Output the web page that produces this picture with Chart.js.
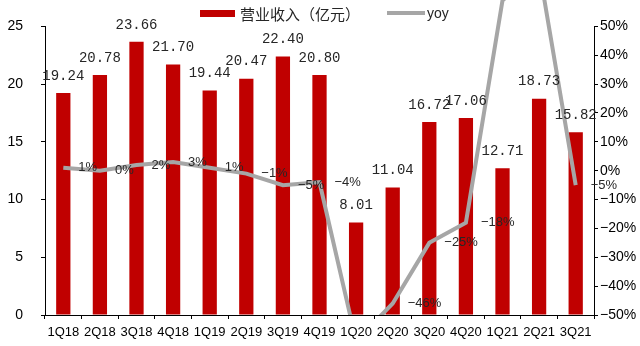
<!DOCTYPE html>
<html>
<head>
<meta charset="utf-8">
<script src="https://cdn.jsdelivr.net/npm/chart.js@4.4.1/dist/chart.umd.min.js"></script>
<style>
  html, body { margin: 0; padding: 0; background: #fff; }
  #revChart { display: block; }
</style>
</head>
<body>
<canvas id="revChart" width="640" height="346"></canvas>
<script>
// quarterly revenue (亿元) and year-over-year growth (%)
const quarters = ["1Q18", "2Q18", "3Q18", "4Q18", "1Q19", "2Q19", "3Q19", "4Q19",
                  "1Q20", "2Q20", "3Q20", "4Q20", "1Q21", "2Q21", "3Q21"];
const revenue  = [19.24, 20.78, 23.66, 21.70, 19.44, 20.47, 22.40, 20.80,
                  8.01, 11.04, 16.72, 17.06, 12.71, 18.73, 15.82];
const yoy      = [1, 0, 2, 3, 1, -1, -5, -4, -59, -46, -25, -18, 59, 70, -5];

const revTicks = [0, 5, 10, 15, 20, 25];
const yoyTicks = [-50, -40, -30, -20, -10, 0, 10, 20, 30, 40, 50];

const RED  = "#C00000";
const GREY = "#A6A6A6";
const TEXT = "#262626";

function pct(v) {
  return (v < 0 ? "\u2212" + Math.abs(v) : String(v)) + "%";
}

// value labels over bars, and to the right of each yoy point
const valueLabels = {
  id: "valueLabels",
  afterDatasetsDraw(chart) {
    const ctx = chart.ctx;
    ctx.save();
    ctx.fillStyle = TEXT;
    ctx.textBaseline = "middle";

    ctx.font = "14px 'Liberation Mono'";
    ctx.textAlign = "center";
    chart.getDatasetMeta(0).data.forEach((bar, i) => {
      ctx.fillText(revenue[i].toFixed(2), bar.x, bar.y - 17);
    });

    const y1 = chart.scales.y1;
    ctx.font = "13px 'Liberation Sans'";
    ctx.textAlign = "left";
    chart.getDatasetMeta(1).data.forEach((pt, i) => {
      if (yoy[i] < y1.min || yoy[i] > y1.max) return;
      ctx.fillText(pct(yoy[i]), pt.x + 15, pt.y);
    });
    ctx.restore();
  }
};

// legend row along the top
const topLegend = {
  id: "topLegend",
  afterDraw(chart) {
    const ctx = chart.ctx;
    ctx.save();
    ctx.fillStyle = RED;
    ctx.fillRect(200, 10, 35, 7);
    ctx.fillStyle = TEXT;
    ctx.textBaseline = "middle";
    ctx.textAlign = "left";
    ctx.font = "15px 'Noto Sans CJK SC'";
    ctx.fillText("营业收入（亿元）", 240, 14);

    ctx.strokeStyle = GREY;
    ctx.lineWidth = 4;
    ctx.beginPath();
    ctx.moveTo(387, 13);
    ctx.lineTo(425, 13);
    ctx.stroke();
    ctx.font = "14px 'Liberation Sans'";
    ctx.fillText("yoy", 427, 14);
    ctx.restore();
  }
};

const tickFont = { family: "'Liberation Sans'", size: 14 };

new Chart(document.getElementById("revChart"), {
  type: "bar",
  data: {
    labels: quarters,
    datasets: [
      {
        type: "bar",
        label: "营业收入（亿元）",
        data: revenue,
        backgroundColor: RED,
        barPercentage: 0.39,
        categoryPercentage: 1,
        yAxisID: "y",
        order: 2
      },
      {
        type: "line",
        label: "yoy",
        data: yoy,
        borderColor: GREY,
        borderWidth: 4,
        pointRadius: 0,
        tension: 0,
        yAxisID: "y1",
        clip: { left: false, top: false, right: false, bottom: 0 },
        order: 1
      }
    ]
  },
  options: {
    responsive: false,
    animation: false,
    devicePixelRatio: 1,
    layout: { padding: { top: 25, left: 0, right: 0, bottom: 0 } },
    plugins: {
      legend: { display: false },
      tooltip: { enabled: false }
    },
    scales: {
      x: {
        offset: true,
        grid: { offset: true, drawOnChartArea: false, color: "#000", tickLength: 4 },
        border: { color: "#000" },
        ticks: { font: { family: "'Liberation Sans'", size: 13 }, color: "#000", padding: 6, maxRotation: 0, autoSkip: false },
        afterFit(s) { s.height = 31; }
      },
      y: {
        position: "left",
        min: 0,
        max: 25,
        afterBuildTicks(s) { s.ticks = revTicks.map(v => ({ value: v })); },
        grid: { drawOnChartArea: false, color: "#000", tickLength: 4 },
        border: { color: "#000" },
        ticks: { font: tickFont, color: "#000", padding: 18 },
        afterFit(s) { s.width = 45; }
      },
      y1: {
        position: "right",
        min: -50,
        max: 50,
        afterBuildTicks(s) { s.ticks = yoyTicks.map(v => ({ value: v })); },
        grid: { drawOnChartArea: false, color: "#000", tickLength: 4 },
        border: { color: "#000" },
        ticks: { font: tickFont, color: "#000", padding: 2, callback: v => pct(v) },
        afterFit(s) { s.width = 46; }
      }
    }
  },
  plugins: [valueLabels, topLegend]
});
</script>
</body>
</html>
